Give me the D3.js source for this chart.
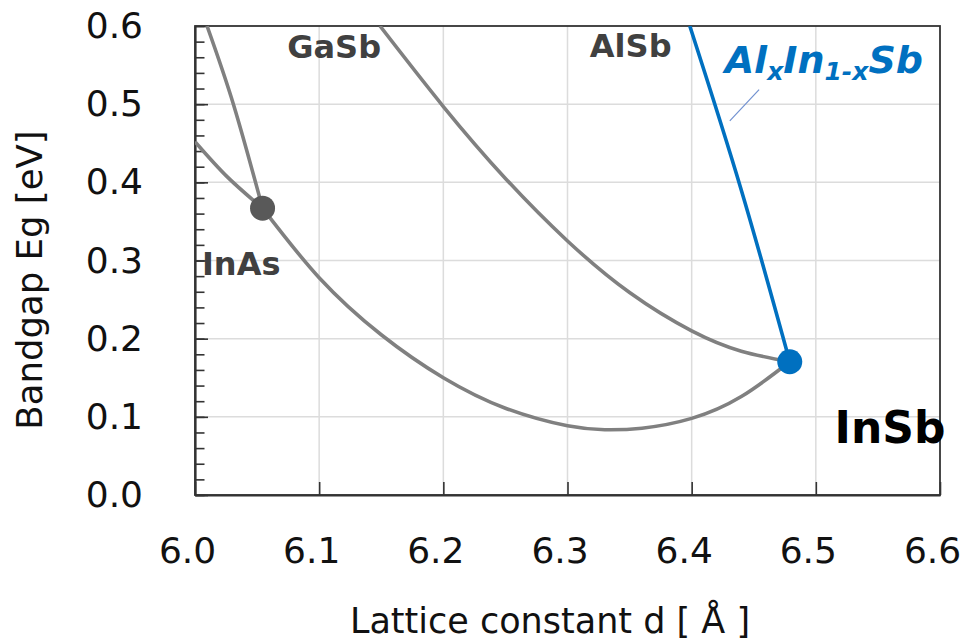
<!DOCTYPE html>
<html>
<head>
<meta charset="utf-8">
<script src="https://cdn.jsdelivr.net/npm/d3@7"></script>
<style>
  body { margin: 0; background: #fff; }
  svg text { font-family: "DejaVu Sans", sans-serif; }
</style>
</head>
<body>
<div id="chart"></div>
<script>
/* DATA */
// lattice constant d [Å] vs bandgap Eg [eV]
const inGaAs = [ // steep branch above InAs
  [6.0097, 0.600], [6.0311, 0.499], [6.0544, 0.367]
];
const inAsLeft = [ // branch left of InAs
  [6.000, 0.452], [6.026, 0.407], [6.0544, 0.367]
];
const inAsSb = [ // InAs -> InSb bowing curve
  [6.0544, 0.367], [6.100, 0.278], [6.150, 0.205], [6.200, 0.150], [6.250, 0.111],
  [6.300, 0.0885], [6.330, 0.0835], [6.360, 0.0855], [6.400, 0.098], [6.440, 0.126],
  [6.479, 0.1705]
];
const gaInSb = [ // GaSb -> InSb
  [6.149, 0.600], [6.200, 0.497], [6.250, 0.405], [6.300, 0.325], [6.350, 0.259],
  [6.400, 0.210], [6.440, 0.184], [6.479, 0.1705]
];
const alInSb = [ // AlxIn1-xSb
  [6.3985, 0.600], [6.440, 0.390], [6.479, 0.1705]
];
const compounds = [
  { name: "InAs", d: 6.0544, eg: 0.367 },
  { name: "InSb", d: 6.479, eg: 0.1705 }
];
const xTicks = [6.0, 6.1, 6.2, 6.3, 6.4, 6.5, 6.6];
const yTicks = [0.0, 0.1, 0.2, 0.3, 0.4, 0.5, 0.6];
const yMinorTicks = d3.range(0, 61, 2).map(d => d / 100);

/* CONSTANTS */
const width = 967, height = 641,
  margin = { top: 26, right: 27, bottom: 146, left: 195 };

const svg = d3.select("#chart").append("svg")
  .attr("width", width)
  .attr("height", height);

const xScale = d3.scaleLinear().domain([6.0, 6.6]).range([margin.left, width - margin.right]);
const yScale = d3.scaleLinear().domain([0, 0.6]).range([height - margin.bottom, margin.top]);

svg.append("clipPath").attr("id", "plot-clip")
  .append("rect")
  .attr("x", margin.left).attr("y", margin.top)
  .attr("width", xScale(6.6) - xScale(6.0))
  .attr("height", yScale(0) - yScale(0.6));

// grid
svg.append("g").selectAll("line")
  .data(xTicks.slice(1, -1))
  .join("line")
  .attr("x1", d => xScale(d)).attr("x2", d => xScale(d))
  .attr("y1", yScale(0)).attr("y2", yScale(0.6))
  .attr("stroke", "#dcdcdc").attr("stroke-width", 1.5);
svg.append("g").selectAll("line")
  .data(yTicks.slice(1, -1))
  .join("line")
  .attr("x1", xScale(6.0)).attr("x2", xScale(6.6))
  .attr("y1", d => yScale(d)).attr("y2", d => yScale(d))
  .attr("stroke", "#dcdcdc").attr("stroke-width", 1.5);

// frame
svg.append("rect")
  .attr("x", xScale(6.0)).attr("y", yScale(0.6))
  .attr("width", xScale(6.6) - xScale(6.0))
  .attr("height", yScale(0) - yScale(0.6))
  .attr("fill", "none").attr("stroke", "#333").attr("stroke-width", 1.8);

// axes
const xAxis = d3.axisBottom(xScale).tickValues(xTicks)
  .tickFormat(d3.format(".1f")).tickSizeInner(-13).tickSizeOuter(0).tickPadding(42);
const xAxisGroup = svg.append("g")
  .attr("transform", `translate(0, ${yScale(0)})`)
  .call(xAxis);
xAxisGroup.selectAll("text").attr("dx", -8);

const yAxis = d3.axisLeft(yScale).tickValues(yTicks)
  .tickFormat(d3.format(".1f")).tickSizeInner(-13).tickSizeOuter(0).tickPadding(52);
svg.append("g")
  .attr("transform", `translate(${xScale(6.0)}, 0)`)
  .call(yAxis);

const yMinor = d3.axisLeft(yScale).tickValues(yMinorTicks)
  .tickFormat("").tickSizeInner(-9.5).tickSizeOuter(0);
svg.append("g")
  .attr("transform", `translate(${xScale(6.0)}, 0)`)
  .call(yMinor)
  .call(g => g.select(".domain").remove());

svg.selectAll(".tick line").attr("stroke", "#333").attr("stroke-width", 1.6);
svg.selectAll(".domain").attr("stroke", "#333").attr("stroke-width", 2.2);
svg.selectAll(".tick text").attr("font-size", 36).attr("fill", "#111")
  .attr("font-family", "DejaVu Sans");

// axis titles
svg.append("text")
  .attr("x", 550).attr("y", 633)
  .attr("text-anchor", "middle").attr("font-size", 35).attr("fill", "#111")
  .text("Lattice constant d [ Å ]");
svg.append("text")
  .attr("transform", "translate(42, 280) rotate(-90)")
  .attr("text-anchor", "middle").attr("font-size", 35.5).attr("fill", "#111")
  .text("Bandgap Eg [eV]");

// curves
const lineGen = d3.line()
  .x(d => xScale(d[0]))
  .y(d => yScale(d[1]))
  .curve(d3.curveNatural);

const curves = svg.append("g").attr("clip-path", "url(#plot-clip)");
curves.selectAll(".gray")
  .data([inGaAs, inAsLeft, inAsSb, gaInSb])
  .join("path")
  .attr("class", "gray")
  .attr("fill", "none").attr("stroke", "#808080").attr("stroke-width", 3.6)
  .attr("stroke-linejoin", "round")
  .attr("d", d => lineGen(d));
curves.append("path")
  .datum(alInSb)
  .attr("fill", "none").attr("stroke", "#0070c0").attr("stroke-width", 3.6)
  .attr("d", lineGen);

// leader line for the AlInSb label
svg.append("line")
  .attr("x1", xScale(6.4307)).attr("y1", yScale(0.4786))
  .attr("x2", xScale(6.4543)).attr("y2", yScale(0.5187))
  .attr("stroke", "#7090d0").attr("stroke-width", 1.2);

// points
svg.selectAll(".dot")
  .data(compounds)
  .join("circle")
  .attr("class", "dot")
  .attr("cx", d => xScale(d.d)).attr("cy", d => yScale(d.eg))
  .attr("r", 12.5)
  .attr("fill", d => d.name === "InSb" ? "#0070c0" : "#595959");

// labels
const labels = [
  { text: "GaSb", d: 6.0743, eg: 0.5588, size: 32, color: "#404040" },
  { text: "AlSb", d: 6.318, eg: 0.5605, size: 32, color: "#404040" },
  { text: "InAs", d: 6.0056, eg: 0.2813, size: 32, color: "#404040" },
  { text: "InSb", d: 6.5151, eg: 0.0661, size: 44, color: "#000" }
];
svg.selectAll(".lbl")
  .data(labels)
  .join("text")
  .attr("class", "lbl")
  .attr("x", d => xScale(d.d)).attr("y", d => yScale(d.eg))
  .attr("font-size", d => d.size).attr("font-weight", "bold")
  .attr("fill", d => d.color)
  .text(d => d.text);

const alLabel = svg.append("text")
  .attr("x", xScale(6.4266)).attr("y", yScale(0.5393))
  .attr("font-size", 38).attr("font-weight", "bold").attr("font-style", "italic")
  .attr("fill", "#0070c0");
alLabel.append("tspan").text("Al");
alLabel.append("tspan").attr("font-size", 25).attr("dy", 7).text("x");
alLabel.append("tspan").attr("dy", -7).text("In");
alLabel.append("tspan").attr("font-size", 25).attr("dy", 7).text("1-x");
alLabel.append("tspan").attr("dy", -7).text("Sb");
</script>
</body>
</html>
